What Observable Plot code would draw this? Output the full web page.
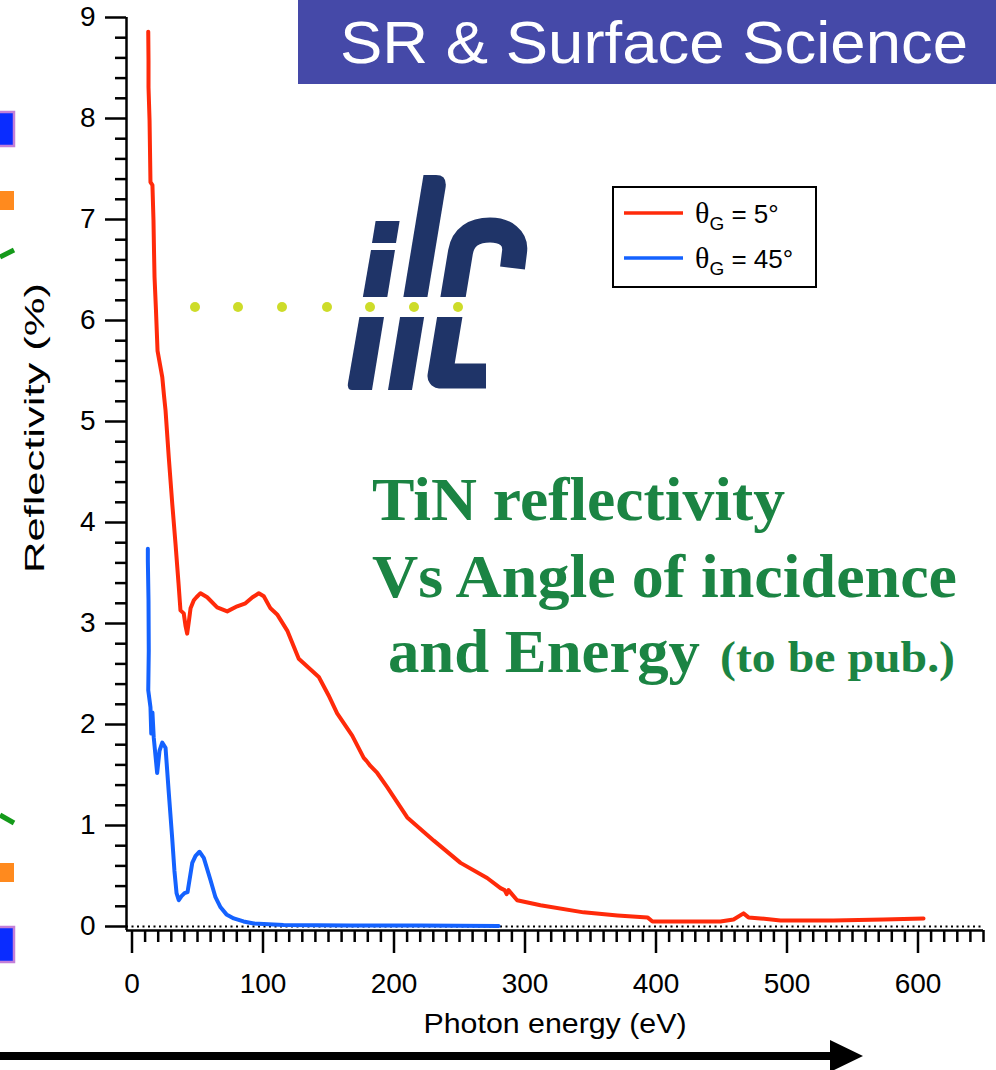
<!DOCTYPE html>
<html><head><meta charset="utf-8">
<script src="https://cdn.jsdelivr.net/npm/d3@7"></script>
<script src="https://cdn.jsdelivr.net/npm/@observablehq/plot@0.6"></script>
<style>html,body{margin:0;padding:0;background:#fff;} svg{display:block;}</style>
</head><body><div id="chart"></div>
<script>
// ---- data ----
const seriesNames = ["θG = 5°", "θG = 45°"];
const seriesColors = ["#ff2a0a", "#1462ff"];
const energy5 = [12.4,12.6,12.6,13.4,14.1,15.6,16.4,16.8,17.2,18.3,19.5,23.1,24.4,25.6,28.1,30.7,33.2,35.5,37.0,39.5,40.8,42.1,43.5,44.7,47.2,49.2,52.3,57.4,65.0,72.7,80.3,86.6,92.0,96.8,100.6,105.7,110.8,118.5,127.3,142.6,150.0,156.6,168.1,176.9,179.0,182.0,187.2,194.8,210.1,230.4,250.8,271.1,281.3,284.4,286.0,287.4,294.0,311.8,344.7,370.6,393.5,397.3,421.0,449.2,459.2,466.8,470.6,479.8,495.0,535.5,573.7,604.2];
const refl5 = [8.86,8.57,8.31,7.98,7.37,7.34,6.99,6.69,6.43,6.10,5.70,5.44,5.26,5.11,4.64,4.19,3.79,3.40,3.13,3.10,2.98,2.90,3.03,3.15,3.23,3.26,3.30,3.26,3.16,3.12,3.17,3.20,3.26,3.30,3.27,3.15,3.09,2.93,2.65,2.47,2.29,2.11,1.89,1.67,1.64,1.59,1.52,1.38,1.08,0.85,0.63,0.48,0.38,0.36,0.32,0.36,0.26,0.21,0.14,0.11,0.09,0.05,0.05,0.05,0.07,0.13,0.09,0.08,0.06,0.06,0.07,0.08];
const energy45 = [12.1,12.1,12.6,12.8,12.4,14.1,14.7,15.6,16.6,19.2,21.0,23.1,25.6,28.1,30.7,32.4,34.0,35.7,37.8,40.1,42.4,46.0,48.5,51.5,54.8,59.9,63.7,67.6,72.1,77.7,85.1,93.0,115.6,166.8,220.0,279.8];
const refl45 = [3.74,3.62,3.23,2.73,2.34,2.17,1.91,2.12,1.87,1.52,1.74,1.82,1.77,1.32,0.87,0.55,0.33,0.26,0.30,0.33,0.34,0.63,0.70,0.74,0.68,0.46,0.29,0.19,0.12,0.08,0.05,0.03,0.015,0.01,0.01,0.005];
const xMajorTicks = [0,100,200,300,400,500,600];
const xMinorTicks = d3.range(0, 651, 10).filter(v => v % 100 !== 0);
const yMajorTicks = [0,1,2,3,4,5,6,7,8,9];
const yMinorTicks = d3.range(0, 45).map(i => i / 5).filter(v => Math.abs(v - Math.round(v)) > 1e-9);
const xLabel = "Photon energy (eV)";
const yLabel = "Reflectivity (%)";
const titleText = "SR & Surface Science";
const noteLines = ["TiN reflectivity", "Vs Angle of incidence", "and Energy"];
const noteSmall = "(to be pub.)";
const xDomain = [-4.2, 650];
const yDomain = [0, 9];

// ---- build rows ----
const rows = [
  ...energy5.map((e, i) => ({E: e, R: refl5[i], s: seriesNames[0]})),
  ...energy45.map((e, i) => ({E: e, R: refl45[i], s: seriesNames[1]}))
];

const SANS = "'Liberation Sans', Arial, Helvetica, sans-serif";
const SERIF = "'Liberation Serif', 'Times New Roman', serif";

const plot = Plot.plot({
  width: 996, height: 1070,
  marginLeft: 126, marginRight: 13, marginTop: 17, marginBottom: 144,
  x: {domain: xDomain, label: null},
  y: {domain: yDomain, label: null},
  color: {domain: seriesNames, range: seriesColors},
  style: {fontFamily: SANS, fontSize: "28px", color: "#000", background: "#fff", overflow: "visible"},
  marks: [
    Plot.ruleY([0], {x1: xDomain[0], x2: xDomain[1], stroke: "#000", strokeWidth: 2, strokeDasharray: "2,3.5"}),
    Plot.line(rows, {x: "E", y: "R", z: "s", stroke: "s", strokeWidth: 4, strokeLinejoin: "round", strokeLinecap: "round"}),
    Plot.axisY({ticks: yMajorTicks, tickSize: 21, tickPadding: 10, strokeWidth: 2.5, fontSize: 28, label: null}),
    Plot.axisY({ticks: yMinorTicks, tickSize: 11, text: null, strokeWidth: 2.5, label: null}),
    Plot.axisX({ticks: xMajorTicks, tickSize: 23, tickPadding: 20, dy: 4, strokeWidth: 2.5, fontSize: 28, label: null}),
    Plot.axisX({ticks: xMinorTicks, tickSize: 12, text: null, dy: 4, strokeWidth: 2.5, label: null}),
    Plot.ruleX([xDomain[0]], {y1: -0.04, y2: yDomain[1], stroke: "#000", strokeWidth: 2.5}),
    Plot.ruleY([-0.04], {x1: xDomain[0], x2: xDomain[1], stroke: "#000", strokeWidth: 2.5}),
    Plot.text([xLabel], {frameAnchor: "bottom", dy: 87, lineAnchor: "top", fontSize: 28, fill: "#000"}),
    Plot.text([yLabel], {frameAnchor: "left", rotate: -90, textAnchor: "start", dx: -91, dy: 101, fontSize: 28, fill: "#000"})
  ]
});

document.getElementById("chart").appendChild(plot);

const svg = d3.select(plot);
// stretch axis titles to the reference lengths
svg.selectAll("text").filter(function () { return this.textContent === xLabel; })
  .attr("textLength", 263).attr("lengthAdjust", "spacingAndGlyphs");
svg.selectAll("text").filter(function () { return this.textContent === yLabel; })
  .attr("textLength", 290).attr("lengthAdjust", "spacingAndGlyphs");

// ---- decorations (slide elements) ----
const deco = svg.append("g").attr("class", "deco").attr("text-anchor", "start");

// left-edge fragments of neighbouring figure
[[112, 34], [927, 35]].forEach(([y, h]) => {
  deco.append("rect").attr("x", -2).attr("y", y).attr("width", 16).attr("height", h)
    .attr("fill", "#0a2cff").attr("stroke", "#c47fd8").attr("stroke-width", 2.5);
});
[[191, 19], [863, 19]].forEach(([y, h]) => {
  deco.append("rect").attr("x", 0).attr("y", y).attr("width", 14).attr("height", h).attr("fill", "#ff8a1e");
});
deco.append("line").attr("x1", 0).attr("y1", 257).attr("x2", 14).attr("y2", 250).attr("stroke", "#149a1a").attr("stroke-width", 5);
deco.append("line").attr("x1", 0).attr("y1", 815).attr("x2", 14).attr("y2", 823).attr("stroke", "#149a1a").attr("stroke-width", 5);

// title banner
deco.append("rect").attr("x", 298).attr("y", 0).attr("width", 698).attr("height", 84).attr("fill", "#4549a8");
deco.append("text").attr("x", 340).attr("y", 63).attr("fill", "#fff").attr("font-size", 60).attr("text-anchor", "start")
  .attr("font-family", SANS).attr("textLength", 628).attr("lengthAdjust", "spacingAndGlyphs").text(titleText);

// ilc logo
const navy = "#1f3468";
const logo = deco.append("g");
logo.append("path").attr("fill", navy).attr("d", "M372 243 L396 243 L399.6 221 L375.6 221 Z");
logo.append("path").attr("fill", navy).attr("d", "M352 390 Q347 390 348 383 L371 250 L395 250 L372 390 Z");
logo.append("path").attr("fill", navy).attr("d", "M388 390 L412 390 L445.5 188 Q447.5 175 436 175 L423.5 175 Z");
logo.append("path").attr("fill", "none").attr("stroke", navy).attr("stroke-width", 25).attr("stroke-linejoin", "round")
  .attr("d", "M512.5 268 L514.5 252 C516.5 238, 505 230, 490 230 C474 230, 463 237, 460.5 252 L440 376 L486 376");
logo.append("rect").attr("x", 335).attr("y", 297).attr("width", 200).attr("height", 20).attr("fill", "#fff");
[195, 238, 282, 327, 370, 414, 458].forEach(x => {
  logo.append("circle").attr("cx", x).attr("cy", 307).attr("r", 5).attr("fill", "#cddc29");
});

// green annotation
const green = "#1b8443";
const note = deco.append("g").attr("fill", green).attr("font-family", SERIF).attr("font-weight", "bold").attr("text-anchor", "start");
note.append("text").attr("x", 372).attr("y", 520).attr("font-size", 62).attr("textLength", 413).attr("lengthAdjust", "spacingAndGlyphs").text(noteLines[0]);
note.append("text").attr("x", 372).attr("y", 597).attr("font-size", 62).attr("textLength", 585).attr("lengthAdjust", "spacingAndGlyphs").text(noteLines[1]);
note.append("text").attr("x", 388).attr("y", 672).attr("font-size", 62).attr("textLength", 312).attr("lengthAdjust", "spacingAndGlyphs").text(noteLines[2]);
note.append("text").attr("x", 720).attr("y", 672).attr("font-size", 44).attr("textLength", 235).attr("lengthAdjust", "spacingAndGlyphs").text(noteSmall);

// legend
const leg = deco.append("g").attr("text-anchor", "start");
leg.append("rect").attr("x", 613).attr("y", 187).attr("width", 203).attr("height", 100)
  .attr("fill", "#fff").attr("stroke", "#000").attr("stroke-width", 2);
seriesNames.forEach((name, i) => {
  const yl = 213 + i * 45;
  leg.append("line").attr("x1", 624).attr("x2", 683).attr("y1", yl).attr("y2", yl)
    .attr("stroke", seriesColors[i]).attr("stroke-width", 3.5);
  const m = name.match(/^(θ)(G)(.*)$/);
  const t = leg.append("text").attr("x", 695).attr("y", yl + 10).attr("fill", "#000").attr("text-anchor", "start");
  t.append("tspan").attr("font-family", SERIF).attr("font-size", 30).text(m[1]);
  t.append("tspan").attr("font-family", SANS).attr("font-size", 19).attr("dy", 7).text(m[2]);
  t.append("tspan").attr("font-family", SANS).attr("font-size", 26).attr("dy", -7).text(m[3].replace(/^ /, "\u00a0"));
});

// bottom arrow
deco.append("rect").attr("x", 0).attr("y", 1052).attr("width", 834).attr("height", 8).attr("fill", "#000");
deco.append("path").attr("d", "M830 1040 L863 1056 L830 1072 Z").attr("fill", "#000");
</script>
</body></html>
